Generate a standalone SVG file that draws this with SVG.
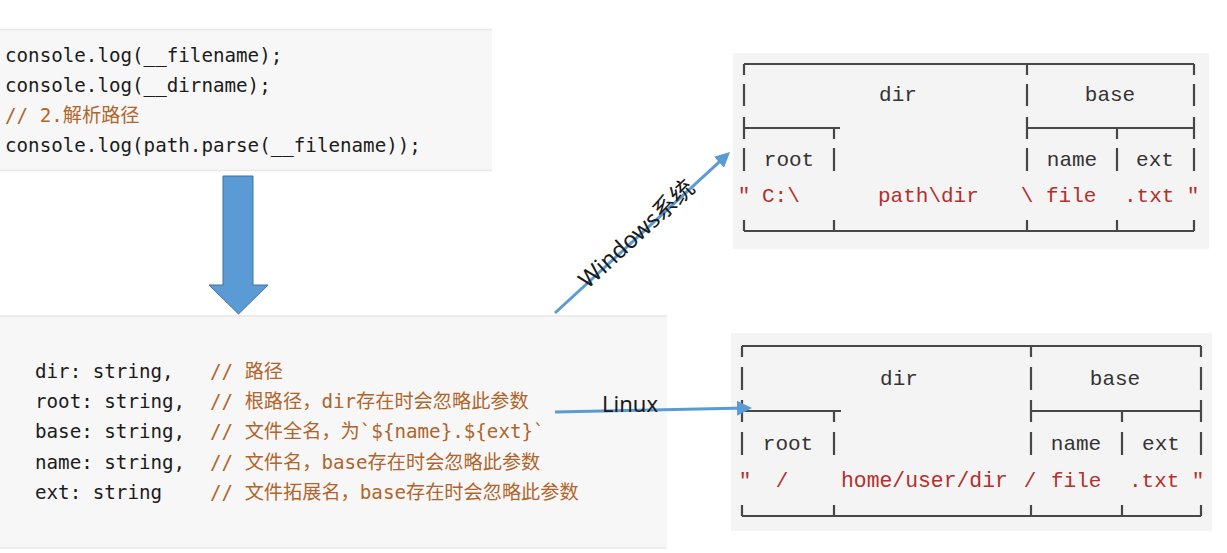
<svg xmlns="http://www.w3.org/2000/svg" width="1227" height="553" viewBox="0 0 1227 553">
<style>
.code{font-family:"DejaVu Sans Mono","Liberation Mono","Noto Sans CJK SC",monospace;font-size:19.2px;fill:#1c1c1c}
.cm{fill:#b0652b}
.bx{font-family:"Liberation Mono","Noto Sans CJK SC",monospace;font-size:21px;fill:#333333}
.rd{fill:#b3302c}
.ln{stroke:#474747;stroke-width:2.2;fill:none}
.conn{stroke:#5b9bd5;stroke-width:3;fill:none}
.lbl{font-family:"Noto Sans","Noto Sans CJK SC",sans-serif;fill:#1a1a1a}
</style>
<defs>
<marker id="ah" viewBox="0 0 10 10" refX="6" refY="5" markerWidth="5" markerHeight="5" orient="auto" markerUnits="strokeWidth">
<path d="M0,0 L10,5 L0,10 z" fill="#5b9bd5"/>
</marker>
</defs>
<rect width="1227" height="553" fill="#ffffff"/>

<g id="code-top">
<rect x="0" y="29" width="492" height="142" fill="#f7f7f7"/>
<line x1="0" y1="29.5" x2="492" y2="29.5" stroke="#e8e8e8" stroke-width="1.5"/>
<line x1="0" y1="170.5" x2="492" y2="170.5" stroke="#e8e8e8" stroke-width="1.5"/>
<text class="code" x="5" y="62">console.log(__filename);</text>
<text class="code" x="5" y="92">console.log(__dirname);</text>
<text class="code cm" x="5" y="122">// 2.解析路径</text>
<text class="code" x="5" y="152">console.log(path.parse(__filename));</text>
</g>

<g id="down-arrow">
<path d="M223,176 L253,176 L253,285 L268,285 L238.5,314 L209,285 L223,285 Z" fill="#5b9bd5" stroke="#41719c" stroke-width="1"/>
</g>

<g id="code-bottom">
<rect x="0" y="316" width="667" height="232" fill="#f7f7f7"/>
<line x1="0" y1="316" x2="667" y2="316" stroke="#ebebeb" stroke-width="2"/>
<line x1="0" y1="548" x2="667" y2="548" stroke="#e6e8ea" stroke-width="1.5"/>
<text class="code" x="35" y="378">dir: string,</text>
<text class="code" x="35" y="408">root: string,</text>
<text class="code" x="35" y="438">base: string,</text>
<text class="code" x="35" y="469">name: string,</text>
<text class="code" x="35" y="499">ext: string</text>
<text class="code cm" x="210" y="378">// 路径</text>
<text class="code cm" x="210" y="408">// 根路径，dir存在时会忽略此参数</text>
<text class="code cm" x="210" y="438">// 文件全名，为`${name}.${ext}`</text>
<text class="code cm" x="210" y="469">// 文件名，base存在时会忽略此参数</text>
<text class="code cm" x="210" y="499">// 文件拓展名，base存在时会忽略此参数</text>
</g>

<g id="windows-box">
<rect x="733" y="53" width="476" height="196" fill="#f4f4f4"/>
<path class="ln" d="M744,64 H1194 M744,64 V75 M1027,64 V75 M1194,64 V75
M744,84 V106 M1027,84 V106 M1194,84 V106
M744,117 V139 M744,128 H840 M834,128 V139 M1027,117 V139 M1027,128 H1194 M1117,128 V139 M1194,117 V139
M744,148 V171 M834,148 V171 M1027,148 V171 M1117,148 V171 M1194,148 V171
M744,231 H1194 M744,220 V231 M834,220 V231 M1027,220 V231 M1117,220 V231 M1194,220 V231"/>
<text class="bx" x="898" y="101" text-anchor="middle">dir</text>
<text class="bx" x="1110" y="101" text-anchor="middle">base</text>
<text class="bx" x="789" y="166" text-anchor="middle">root</text>
<text class="bx" x="1072" y="166" text-anchor="middle">name</text>
<text class="bx" x="1155" y="166" text-anchor="middle">ext</text>
<text class="bx rd" x="744" y="202" text-anchor="middle">"</text>
<text class="bx rd" x="762" y="202">C:\</text>
<text class="bx rd" x="878" y="202">path\dir</text>
<text class="bx rd" x="1027" y="202" text-anchor="middle">\</text>
<text class="bx rd" x="1046" y="202">file</text>
<text class="bx rd" x="1124" y="202">.txt</text>
<text class="bx rd" x="1193" y="202" text-anchor="middle">"</text>
</g>

<g id="linux-box">
<rect x="731" y="333" width="481" height="198" fill="#f4f4f4"/>
<path class="ln" d="M742,346 H1201 M742,346 V357 M1031,346 V357 M1201,346 V357
M742,367 V390 M1031,367 V390 M1201,367 V390
M742,400 V422 M742,411 H841 M834,411 V422 M1031,400 V422 M1031,411 H1201 M1122,411 V422 M1201,400 V422
M742,432 V455 M834,432 V455 M1031,432 V455 M1122,432 V455 M1201,432 V455
M742,516 H1201 M742,505 V516 M834,505 V516 M1031,505 V516 M1122,505 V516 M1201,505 V516"/>
<text class="bx" x="899" y="385" text-anchor="middle">dir</text>
<text class="bx" x="1115" y="385" text-anchor="middle">base</text>
<text class="bx" x="788" y="450" text-anchor="middle">root</text>
<text class="bx" x="1076" y="450" text-anchor="middle">name</text>
<text class="bx" x="1161" y="450" text-anchor="middle">ext</text>
<text class="bx rd" x="745" y="487" text-anchor="middle">"</text>
<text class="bx rd" x="782" y="487" text-anchor="middle">/</text>
<text class="bx rd" x="841" y="487" style="font-size:21.4px">home/user/dir</text>
<text class="bx rd" x="1030" y="487" text-anchor="middle">/</text>
<text class="bx rd" x="1051" y="487">file</text>
<text class="bx rd" x="1129" y="487">.txt</text>
<text class="bx rd" x="1198" y="487" text-anchor="middle">"</text>
</g>

<g id="connectors">
<line class="conn" x1="555" y1="313" x2="725.6" y2="156.1" marker-end="url(#ah)"/>
<line class="conn" x1="555" y1="412" x2="746" y2="408.1" marker-end="url(#ah)"/>
<text class="lbl" x="636" y="233" font-size="23.5" text-anchor="middle" dominant-baseline="central" transform="rotate(-42.6 636 233)">Windows系统</text>
<text class="lbl" x="602" y="412" font-size="22">Linux</text>
</g>
</svg>
